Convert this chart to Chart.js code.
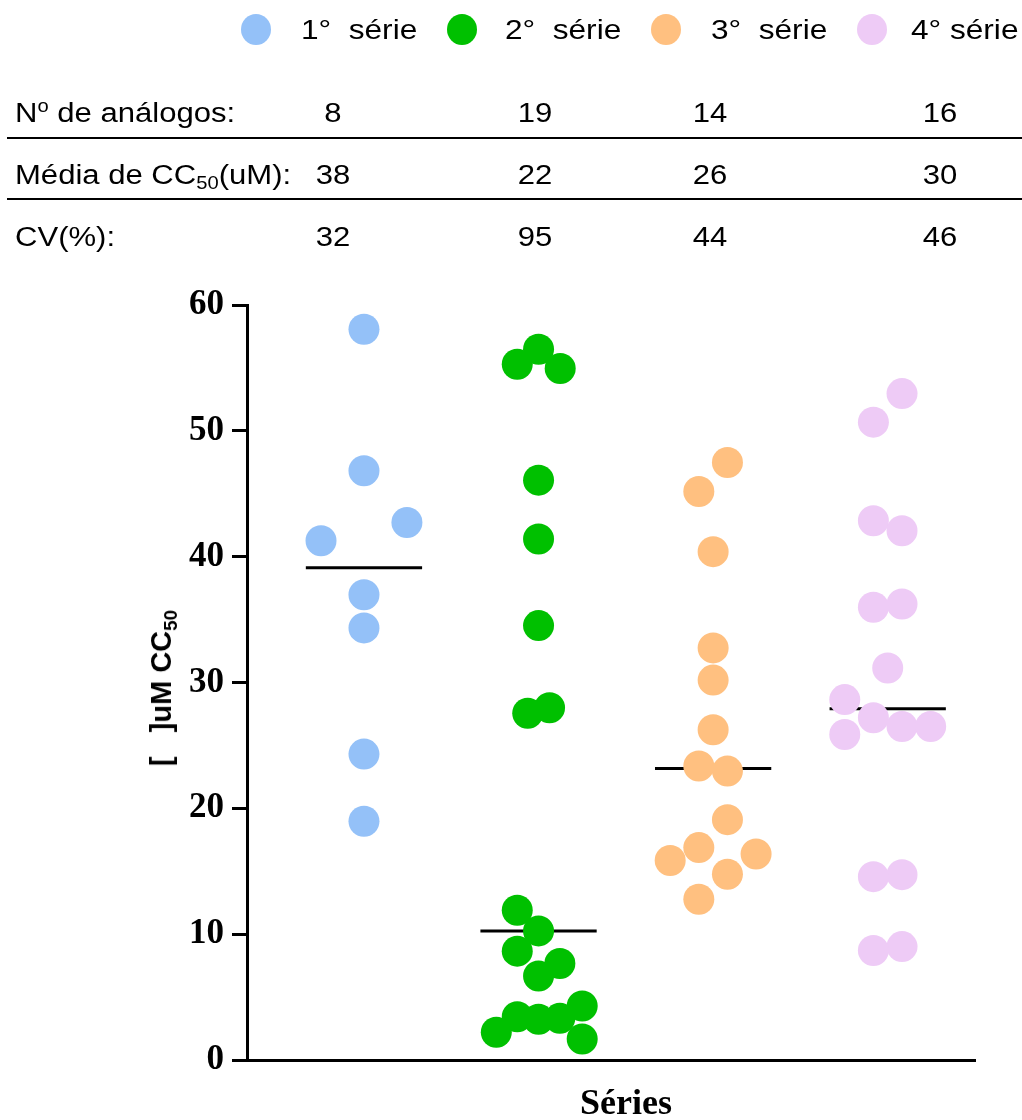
<!DOCTYPE html>
<html>
<head>
<meta charset="utf-8">
<script src="https://cdn.jsdelivr.net/npm/chart.js@4.4.1/dist/chart.umd.min.js"></script>
<style>
  html, body { margin: 0; padding: 0; background: #fff; }
  #page { position: relative; width: 1022px; height: 1120px; overflow: hidden; font-family: 'Liberation Sans', Arial, sans-serif; color: #000; }
  #wrap { position: absolute; left: 0; top: 0; width: 1022px; height: 1120px; }
  .abs { position: absolute; white-space: nowrap; }
  .dot { position: absolute; width: 30px; height: 31px; border-radius: 50%; }
  .leg { font-size: 27px; line-height: 30px; top: 15px; transform: scaleX(1.17); transform-origin: left center; }
  .row { font-size: 27px; line-height: 36px; transform: scaleX(1.15); transform-origin: left center; }
  .num { width: 100px; text-align: center; transform-origin: center center; }
  .rule { position: absolute; left: 7px; width: 1015px; height: 2px; background: #000; }
  sub { font-size: 65%; vertical-align: -0.3em; line-height: 0; }
  sup { font-size: 65%; vertical-align: 0.55em; line-height: 0; }
  #ytitle { font-weight: bold; font-size: 29px; line-height: 30px; transform: translate(-50%, -50%) rotate(-90deg); left: 161px; top: 688px; }
  #xtitle { font-family: 'Liberation Serif', 'Times New Roman', serif; font-weight: bold; font-size: 36px; line-height: 40px; transform: translateX(-50%); left: 626px; top: 1082px; }
</style>
</head>
<body>
<div id="page">
  <div id="wrap"><canvas id="dotChart"></canvas></div>

  <div class="dot" style="left:241px;top:14px;background:#94c1f8"></div>
  <div class="abs leg" style="left:301px">1°&nbsp; série</div>
  <div class="dot" style="left:447px;top:14px;background:#00c000"></div>
  <div class="abs leg" style="left:505px">2°&nbsp; série</div>
  <div class="dot" style="left:651px;top:14px;background:#ffc080"></div>
  <div class="abs leg" style="left:711px">3°&nbsp; série</div>
  <div class="dot" style="left:857px;top:14px;background:#eecbf6"></div>
  <div class="abs leg" style="left:911px">4° série</div>

  <div id="table"></div>
  <div class="rule" style="top:137px"></div>
  <div class="rule" style="top:198px"></div>

  <div id="ytitle" class="abs">[&nbsp;&nbsp;&nbsp;]uM CC<sub>50</sub></div>
  <div id="xtitle" class="abs">Séries</div>
</div>

<script>
// table rows (text above the plot)
const rowLabels = ['N<sup>o</sup> de análogos:', 'Média de CC<sub>50</sub>(uM):', 'CV(%):'];
const nAnalogos = [8, 19, 14, 16];
const mediaCC50 = [38, 22, 26, 30];
const cvPercent = [32, 95, 44, 46];

// CC50 values per series, with horizontal scatter offset (category units)
const serie1 = [58.07, 46.83, 42.72, 41.27, 36.98, 34.34, 24.31, 18.97];
const serie1Jitter = [0, 0, 0.246, -0.246, 0, 0, 0, 0];

const serie2 = [56.48, 55.29, 54.95, 46.08, 41.40, 34.52, 27.99, 27.56, 11.90, 10.26, 8.65, 7.67, 6.67, 4.29, 3.44, 3.23, 3.31, 2.20, 1.67];
const serie2Jitter = [0, -0.122, 0.124, 0, 0, 0, 0.063, -0.062, -0.122, 0, -0.122, 0.122, 0, 0.25, -0.122, 0, 0.122, -0.242, 0.25];

const serie3 = [47.48, 45.18, 40.40, 32.75, 30.19, 26.24, 23.36, 22.96, 19.10, 16.88, 16.37, 15.85, 14.76, 12.78];
const serie3Jitter = [0.082, -0.082, 0, 0, 0, 0, -0.082, 0.082, 0.082, -0.082, 0.246, -0.246, 0.082, -0.082];

const serie4 = [52.96, 50.69, 42.86, 42.06, 36.24, 35.98, 31.15, 28.64, 27.20, 26.51, 26.51, 25.87, 14.73, 14.57, 9.01, 8.70];
const serie4Jitter = [0.082, -0.082, -0.082, 0.082, 0.082, -0.082, 0, -0.246, -0.082, 0.082, 0.246, -0.246, 0.082, -0.082, 0.082, -0.082];

const seriesLabels = ['1° série', '2° série', '3° série', '4° série'];
const seriesColors = ['#94c1f8', '#00c000', '#ffc080', '#eecbf6'];
const yTicks = [0, 10, 20, 30, 40, 50, 60];

// build the table
const numX = [333, 535, 710, 940];
const rowY = [95, 157, 219];
const rowValues = [nAnalogos, mediaCC50, cvPercent];
let tableHtml = '';
rowLabels.forEach((lab, r) => {
    tableHtml += '<div class="abs row" style="left:15px;top:' + rowY[r] + 'px">' + lab + '</div>';
    rowValues[r].forEach((v, c) => {
        tableHtml += '<div class="abs row num" style="left:' + (numX[c] - 50) + 'px;top:' + rowY[r] + 'px">' + v + '</div>';
    });
});
document.getElementById('table').innerHTML = tableHtml;

function median(arr) {
    const s = arr.slice().sort((a, b) => a - b);
    const m = Math.floor(s.length / 2);
    return s.length % 2 ? s[m] : (s[m - 1] + s[m]) / 2;
}

const allSeries = [serie1, serie2, serie3, serie4];
const allJitter = [serie1Jitter, serie2Jitter, serie3Jitter, serie4Jitter];

const datasets = [];
allSeries.forEach((vals, i) => {
    datasets.push({
        type: 'scatter',
        label: seriesLabels[i],
        data: vals.map((v, j) => ({ x: i + 1 + allJitter[i][j], y: v })),
        backgroundColor: seriesColors[i],
        borderWidth: 0,
        pointRadius: 15.5,
        pointHoverRadius: 15.5,
        order: 0
    });
});
allSeries.forEach((vals, i) => {
    const med = median(vals);
    datasets.push({
        type: 'line',
        label: 'mediana ' + (i + 1),
        data: [{ x: i + 1 - 0.333, y: med }, { x: i + 1 + 0.333, y: med }],
        borderColor: '#000',
        borderWidth: 3,
        pointRadius: 0,
        fill: false,
        order: 1
    });
});

const ctx = document.getElementById('dotChart').getContext('2d');
const dotChart = new Chart(ctx, {
    type: 'scatter',
    data: { datasets: datasets },
    options: {
        responsive: true,
        maintainAspectRatio: false,
        animation: false,
        clip: false,
        layout: {
            padding: { left: 0, top: 305, right: 47, bottom: 60 }
        },
        plugins: {
            legend: { display: false },
            tooltip: { enabled: false }
        },
        scales: {
            x: {
                type: 'linear',
                min: 0.33,
                max: 4.5,
                ticks: { display: false },
                grid: { display: false },
                border: { display: true, color: '#000', width: 3 },
                afterFit: s => { s.height = 0; }
            },
            y: {
                min: 0,
                max: 60,
                afterBuildTicks: s => { s.ticks = yTicks.map(v => ({ value: v })); },
                ticks: {
                    color: '#000',
                    padding: 8,
                    font: { family: "'Liberation Serif', 'Times New Roman', serif", weight: 'bold', size: 35 }
                },
                grid: {
                    display: true,
                    drawOnChartArea: false,
                    drawTicks: true,
                    tickLength: 15,
                    tickWidth: 3,
                    tickColor: '#000'
                },
                border: { display: true, color: '#000', width: 3 },
                afterFit: s => { s.width = 247; }
            }
        }
    }
});
</script>
</body>
</html>
